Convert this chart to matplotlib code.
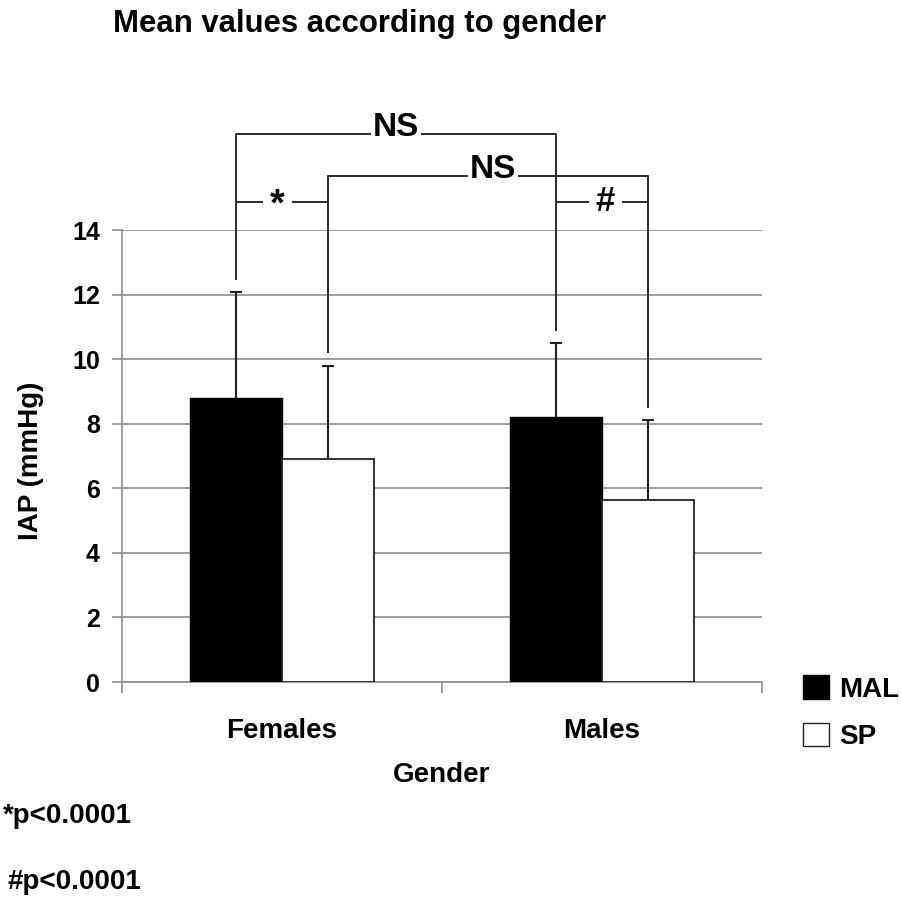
import matplotlib
matplotlib.use('Agg')
import matplotlib.pyplot as plt
from matplotlib.patches import Patch
import numpy as np

# ---- data ----
categories = ['Females', 'Males']
series_names = ['MAL', 'SP']
mal_means = [8.8, 8.2]
sp_means = [6.9, 5.65]
mal_sd = [3.28, 2.3]
sp_sd = [2.9, 2.45]
y_ticks = [0, 2, 4, 6, 8, 10, 12, 14]
title = 'Mean values according to gender'
xlabel = 'Gender'
ylabel = 'IAP (mmHg)'
footnotes = ['*p<0.0001', '#p<0.0001']

W, H = 901, 897
fig = plt.figure(figsize=(W / 100, H / 100), dpi=100)
ax = fig.add_axes([122 / W, 1 - 682 / H, 640 / W, 452 / H])

FONT = ['Liberation Sans', 'DejaVu Sans']

x = np.arange(len(categories))
w = 0.2875
xm = x - w / 2
xs = x + w / 2
ax.bar(xm, mal_means, w, color='black', edgecolor='black', linewidth=1, zorder=3, label=series_names[0])
ax.bar(xs, sp_means, w, color='white', edgecolor='#222222', linewidth=1.3, zorder=3, label=series_names[1])
for xx, mm, sd in [(xm, mal_means, mal_sd), (xs, sp_means, sp_sd)]:
    eb = ax.errorbar(xx, mm, yerr=[np.zeros(len(x)), sd], fmt='none', ecolor='#222222',
                     elinewidth=1.5, capsize=4, capthick=1.5, zorder=4)
    caps = eb[1]
    if len(caps) == 2:
        caps[0].set_visible(False)

ax.set_xlim(-0.5, len(categories) - 0.5)
ax.set_ylim(0, 14)
ax.set_yticks(y_ticks)
ax.set_yticklabels([str(t) for t in y_ticks], fontsize=18, fontweight='bold', family=FONT)
ax.yaxis.grid(True, color='#8c8c8c', linewidth=1.2, zorder=0)
ax.set_axisbelow(True)
ax.tick_params(axis='y', length=7, width=1.2, color='#8c8c8c', pad=9)

ax.set_xticks(x)
ax.set_xticklabels(categories, fontsize=20, fontweight='bold', family=FONT)
ax.set_xticks([-0.5, 0.5, 1.5], minor=True)
ax.tick_params(axis='x', which='major', length=0, pad=26)
ax.tick_params(axis='x', which='minor', length=8, width=1.2, color='#8c8c8c')

for s in ['top', 'right']:
    ax.spines[s].set_visible(False)
for s in ['left', 'bottom']:
    ax.spines[s].set_color('#8c8c8c')
    ax.spines[s].set_linewidth(1.2)

ax.set_xlabel(xlabel, fontsize=20, fontweight='bold', family=FONT)
ax.xaxis.set_label_coords(0.5, -0.176)
ax.set_ylabel(ylabel, fontsize=20, fontweight='bold', family=FONT)
ax.yaxis.set_label_coords(-0.122, 0.49)

# ---- significance brackets ----
lc = '#2a2a2a'
lw = 1.4
gap = 0.38
lev_top, lev_mid, lev_low = 16.97, 15.67, 14.87
mal_top = [m + s for m, s in zip(mal_means, mal_sd)]
sp_top = [m + s for m, s in zip(sp_means, sp_sd)]


def seg(xx, yy):
    ax.plot(xx, yy, color=lc, lw=lw, clip_on=False, zorder=5, solid_capstyle='butt')

# MAL Females vs MAL Males (NS)
seg([xm[0], xm[0], xm[1], xm[1]], [mal_top[0] + gap, lev_top, lev_top, mal_top[1] + gap])
# SP Females vs SP Males (NS)
seg([xs[0], xs[0], xs[1], xs[1]], [sp_top[0] + gap, lev_mid, lev_mid, sp_top[1] + gap])
# MAL vs SP within gender
seg([xm[0], xs[0]], [lev_low, lev_low])
seg([xm[1], xs[1]], [lev_low, lev_low])

bb = dict(facecolor='white', edgecolor='none', pad=1.5)
ax.text((xm[0] + xm[1]) / 2, lev_top + 0.22, 'NS', ha='center', va='center', fontsize=24,
        fontweight='bold', family=FONT, bbox=bb, zorder=6, clip_on=False)
ax.text((xs[0] + xs[1]) / 2 + 0.015, lev_mid + 0.2, 'NS', ha='center', va='center', fontsize=24,
        fontweight='bold', family=FONT, bbox=bb, zorder=6, clip_on=False)
bb2 = dict(facecolor='white', edgecolor='none', pad=5)
ax.text(x[0] - 0.015, lev_low - 0.1, '*', ha='center', va='center', fontsize=27,
        fontweight='bold', family=FONT, bbox=bb2, zorder=6, clip_on=False)
ax.text(x[1] + 0.01, lev_low, '#', ha='center', va='center', fontsize=25,
        fontweight='bold', family=FONT, bbox=bb2, zorder=6, clip_on=False)

# ---- title, legend, footnotes ----
fig.text(113 / W, 1 - 32 / H, title, ha='left', va='baseline', fontsize=22.4, fontweight='bold', family=FONT)

handles = [Patch(facecolor='black', edgecolor='black', label=series_names[0]),
           Patch(facecolor='white', edgecolor='#222222', label=series_names[1])]
fig.legend(handles=handles, loc='upper left', bbox_to_anchor=(803 / W, 1 - 675 / H), frameon=False,
           prop={'family': FONT, 'weight': 'bold', 'size': 20}, handlelength=0.95, handleheight=0.95,
           handletextpad=0.35, labelspacing=0.72, borderaxespad=0, borderpad=0)

fig.text(3 / W, 1 - 823 / H, footnotes[0], ha='left', va='baseline', fontsize=20, fontweight='bold', family=FONT)
fig.text(8 / W, 1 - 889 / H, footnotes[1], ha='left', va='baseline', fontsize=20, fontweight='bold', family=FONT)

fig.savefig('out.png', dpi=100, facecolor='white')
